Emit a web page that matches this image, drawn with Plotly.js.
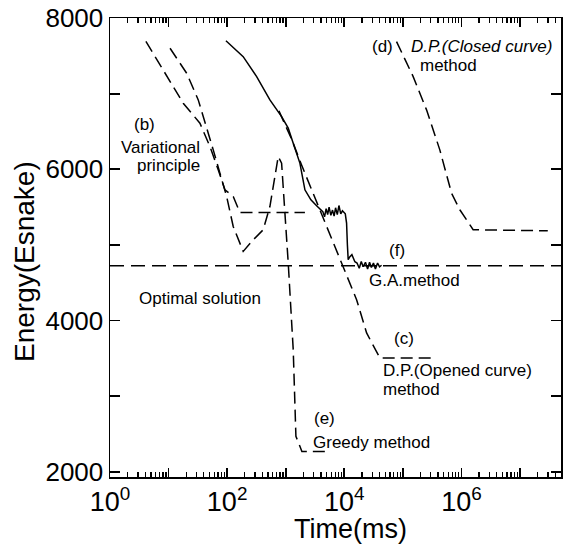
<!DOCTYPE html>
<html>
<head>
<meta charset="utf-8">
<script src="https://cdn.plot.ly/plotly-3.0.1.min.js"></script>
<style>html,body{margin:0;padding:0;background:#fff;}#chart{width:563px;height:550px;}</style>
</head>
<body>
<div id="chart"></div>
<script>
// ---- data (time in ms, energy in Esnake) ----
const timeB   = [4.1, 9.3, 17.8, 34.3, 50.9, 70.4, 91.7, 127, 165, 2128];
const energyB = [7690, 7225, 6873, 6609, 6300, 5992, 5728, 5639, 5428, 5428];

const timeE   = [10.6, 20.4, 32.1, 44.7, 57.9, 75.3, 98, 127, 188, 279, 413, 537, 654, 745, 851, 1104, 1343, 1493, 1746, 1889, 5050];
const energyE = [7600, 7269, 6917, 6564, 6256, 5948, 5639, 5243, 4913, 5067, 5200, 5507, 5904, 6168, 6081, 4760, 3614, 2469, 2337, 2267, 2267];

const timeF   = [95.4, 188, 319, 537, 851, 1104, 1343, 1746, 2128, 2692, 3367, 4100,
                 4300, 4600, 4900, 5200, 5500, 5900, 6300, 6700, 7100, 7600, 8100, 8700, 9300,
                 10400, 10940, 11300, 11660, 12470, 13490, 15170,
                 16500, 18000, 19500, 21000, 23000, 25000, 27000, 29000, 31500, 34000, 37000, 40000, 43300];
const energyF = [7700, 7489, 7225, 6917, 6696, 6543, 6345, 6081, 5728, 5596, 5517, 5464,
                 5440, 5370, 5480, 5400, 5500, 5390, 5460, 5380, 5490, 5400, 5520, 5410, 5450,
                 5410, 5288, 5001, 4803, 4843, 4870, 4777,
                 4760, 4690, 4780, 4710, 4770, 4680, 4770, 4700, 4760, 4680, 4760, 4710, 4730];

const timeC   = [766, 1276, 1889, 2692, 3837, 5250, 8410, 16220, 24040, 40520, 309000];
const energyC = [6771, 6388, 6045, 5754, 5437, 5200, 4803, 4275, 3835, 3504, 3504];

const timeD   = [78000, 150000, 253700, 427600, 677500, 939000, 1585000, 29800000];
const energyD = [7687, 7225, 6785, 6256, 5684, 5464, 5200, 5186];

const timeOpt   = [1, 60000000];
const energyOpt = [4724, 4724];

const xTickVals = [1, 10, 100, 1e3, 1e4, 1e5, 1e6, 1e7];
const xTickText = ['10<sup>0</sup>', '', '10<sup>2</sup>', '', '10<sup>4</sup>', '', '10<sup>6</sup>', ''];
const yTickVals = [2000, 3000, 4000, 5000, 6000, 7000, 8000];
const yTickText = ['2000', '', '4000', '', '6000', '', '8000'];

// ---- layout helpers (pixel -> paper) ----
const L = 110, R = 561, T = 18, B = 477, W = 563, H = 550;
const px = x => (x - L) / (R - L);
const py = y => (B - y) / (B - T);
const xRange = [0, 7.7];
const yRange = [1930, 8000];

const minorVals = [];
for (let d = 0; d < 8; d++) for (let k = 2; k <= 9; k++) minorVals.push(k * Math.pow(10, d));

const dashCurve = '12px,6px';
function tr(x, y, dash) {
  return {x: x, y: y, type: 'scatter', mode: 'lines', hoverinfo: 'skip',
          line: {color: '#000', width: 1.5, dash: dash}};
}
const traces = [
  tr(timeOpt, energyOpt, '14px,7px'),
  tr(timeB, energyB, dashCurve),
  tr(timeE, energyE, dashCurve),
  tr(timeC, energyC, dashCurve),
  tr(timeD, energyD, dashCurve),
  tr(timeF, energyF, 'solid'),
  {x: [], y: [], xaxis: 'x2', type: 'scatter', mode: 'lines', hoverinfo: 'skip'},
  {x: [], y: [], xaxis: 'x3', type: 'scatter', mode: 'lines', hoverinfo: 'skip'},
  {x: [], y: [], yaxis: 'y2', type: 'scatter', mode: 'lines', hoverinfo: 'skip'}
];

const fam = '"Liberation Sans", Arial, Helvetica, sans-serif';
const aFont = {family: fam, size: 17, color: '#000'};
function ann(text, x, y, anchor, extra) {
  return Object.assign({text: text, xref: 'paper', yref: 'paper', x: px(x), y: py(y),
    xanchor: anchor || 'left', yanchor: 'middle', showarrow: false, font: aFont}, extra || {});
}
const annotations = [
  ann('(b)', 132, 124),
  ann('Variational', 202, 147, 'right'),
  ann('principle', 202, 165, 'right'),
  ann('Optimal solution', 137, 298),
  ann('(f)', 387, 250),
  ann('G.A.method', 367, 280),
  ann('(c)', 392, 338),
  ann('D.P.(Opened curve)', 381, 370),
  ann('method', 381, 389),
  ann('(e)', 312, 418),
  ann('Greedy method', 311, 442),
  ann('(d)', 370, 47),
  ann('<i>D.P.(Closed curve)</i>', 409, 47),
  ann('method', 418, 66),
  ann('Time(ms)', 350, 529, 'center', {font: {family: fam, size: 27, color: '#000'}}),
  ann('Energy(Esnake)', 24, 262, 'center', {textangle: -90, font: {family: fam, size: 28, color: '#000'}})
];

const tickAxis = {
  showline: true, linecolor: '#000', linewidth: 1.5, mirror: 'ticks',
  ticks: 'inside', tickcolor: '#000', showticklabels: false,
  showgrid: false, zeroline: false, tickmode: 'array'
};
const layout = {
  width: W, height: H,
  margin: {l: L, r: W - R, t: T, b: H - B},
  paper_bgcolor: '#fff', plot_bgcolor: '#fff',
  showlegend: false,
  xaxis: {
    type: 'log', range: xRange, tickmode: 'array', tickvals: xTickVals, ticktext: xTickText,
    showline: true, linecolor: '#000', linewidth: 1.5, mirror: true,
    ticks: '', showgrid: false, zeroline: false,
    tickfont: {family: fam, size: 27, color: '#000'}
  },
  xaxis2: Object.assign({}, tickAxis, {
    type: 'log', range: xRange, overlaying: 'x', anchor: 'y', side: 'bottom',
    tickvals: minorVals, ticklen: 5, tickwidth: 1.3
  }),
  xaxis3: Object.assign({}, tickAxis, {
    type: 'log', range: xRange, overlaying: 'x', anchor: 'y', side: 'bottom',
    tickvals: xTickVals, ticklen: 9, tickwidth: 1.8
  }),
  yaxis: {
    range: yRange, tickmode: 'array', tickvals: yTickVals, ticktext: yTickText,
    showline: true, linecolor: '#000', linewidth: 1.5, mirror: true,
    ticks: '', showgrid: false, zeroline: false,
    tickfont: {family: fam, size: 26, color: '#000'}
  },
  yaxis2: Object.assign({}, tickAxis, {
    range: yRange, overlaying: 'y', anchor: 'x', side: 'left',
    tickvals: yTickVals, ticklen: 10, tickwidth: 1.8
  }),
  annotations: annotations
};
Plotly.newPlot('chart', traces, layout, {staticPlot: true, displayModeBar: false});
</script>
</body>
</html>
